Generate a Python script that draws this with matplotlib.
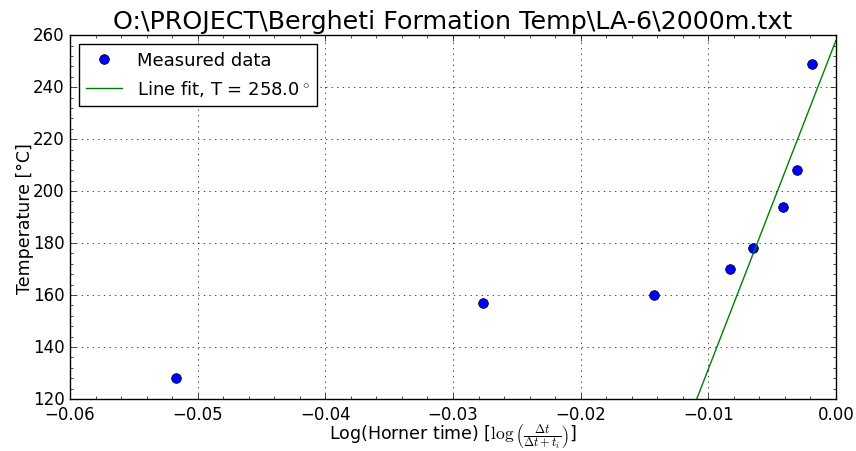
import matplotlib
matplotlib.use('Agg')
import matplotlib.pyplot as plt
from matplotlib.ticker import AutoMinorLocator

# measured data (log Horner time, temperature)
horner = [-0.0517, -0.02765, -0.01426, -0.0083, -0.00648, -0.00418, -0.00308, -0.00188]
temps = [128, 157, 160, 170, 178, 194, 208, 249]

# line fit parameters: T = fit_T + fit_slope * x
fit_T = 258.0
fit_slope = 12650.0
fit_x = [-0.06, 0.0]

plt.style.use('classic')
fig = plt.figure(figsize=(8.56, 4.52), dpi=100, facecolor='white')
ax = fig.add_axes([0.0818, 0.115, 0.8948, 0.805])

ax.plot(horner, temps, 'o', color='b', markeredgecolor='k', markersize=7,
        label='Measured data')
ax.plot(fit_x, [fit_T + fit_slope * x for x in fit_x], 'g-',
        label='Line fit, T = %.1f$^\\circ$' % fit_T)

ax.set_xlim(-0.06, 0.0)
ax.set_ylim(120, 260)
ax.xaxis.set_minor_locator(AutoMinorLocator(5))
ax.yaxis.set_minor_locator(AutoMinorLocator(5))
ax.grid(True, which='major')
ax.tick_params(labelsize=12)

ax.set_title('O:\\PROJECT\\Bergheti Formation Temp\\LA-6\\2000m.txt', fontsize=18.3)
ax.set_ylabel('Temperature [°C]', fontsize=12.5, labelpad=-1)
ax.set_xlabel('Log(Horner time) [$\\log\\left(\\frac{\\Delta t}{\\Delta t + t_i}\\right)$]',
              fontsize=12.5, labelpad=-0.5)
ax.legend(loc='upper left', numpoints=1, fontsize=13, fancybox=False)

fig.savefig('out.png', dpi=100, facecolor='white')
